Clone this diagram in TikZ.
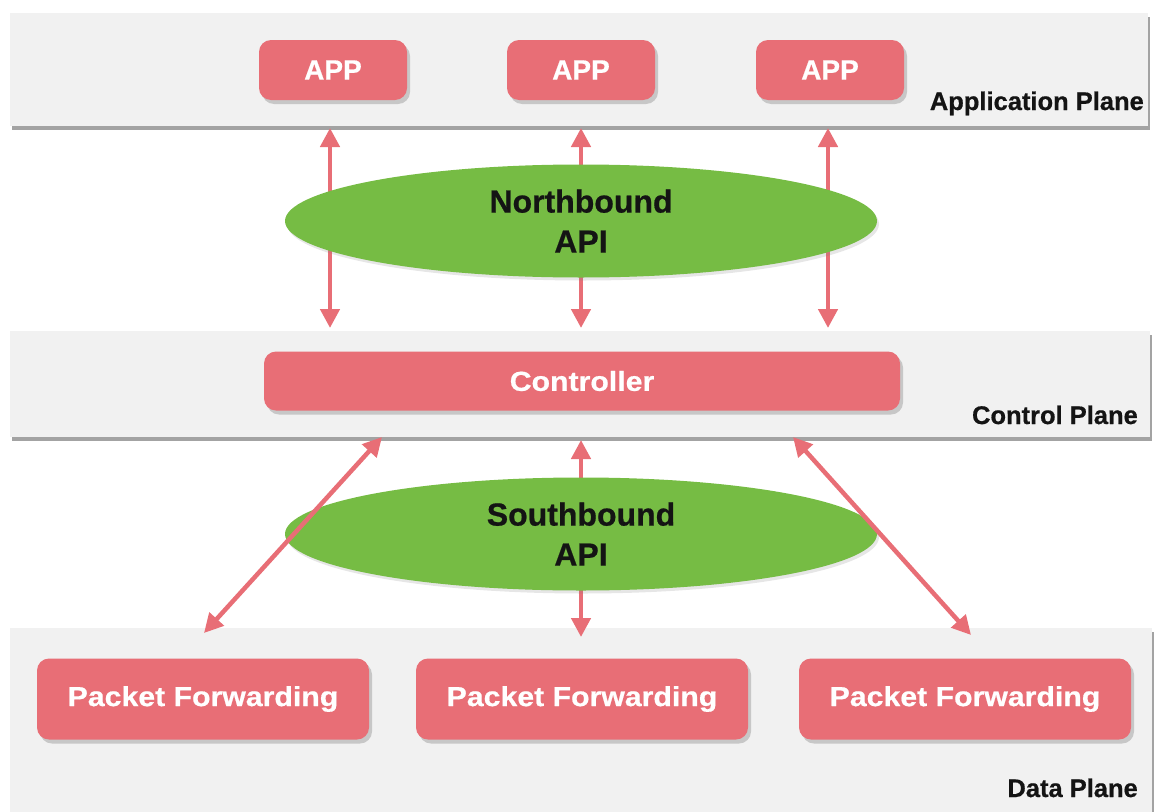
\documentclass[tikz,border=0pt]{standalone}
\usepackage{fontspec}
\setmainfont{Liberation Sans}
\newfontfamily\heavysans[BoldFeatures={FakeBold=0.6}]{Liberation Sans}
\newfontfamily\widesans[BoldFeatures={FakeBold=0.6,FakeStretch=1.1}]{Liberation Sans}
\usetikzlibrary{shapes.geometric,arrows.meta,shadows}
\definecolor{boxred}{RGB}{232,110,118}
\definecolor{apigreen}{RGB}{118,188,68}
\definecolor{planegray}{RGB}{241,241,241}
\definecolor{darktext}{RGB}{20,20,20}
\tikzset{
  plane/.style={draw=none, fill=planegray, inner sep=0pt,
    drop shadow={shadow xshift=2pt, shadow yshift=-4pt, fill=black!60, opacity=.6}},
  redbox/.style={draw=none, fill=boxred, rounded corners=12pt, inner sep=0pt,
    text=white,
    drop shadow={shadow xshift=3pt, shadow yshift=-4pt, fill=black!60, opacity=.3}},
  appbox/.style={redbox, minimum width=148pt, minimum height=60pt,
    font=\heavysans\fontsize{28}{32}\selectfont\bfseries},
  pfbox/.style={redbox, minimum width=332pt, minimum height=81pt,
    font=\widesans\fontsize{27.5}{32}\selectfont\bfseries},
  apiell/.style={ellipse, draw=none, fill=apigreen, inner sep=0pt,
    minimum width=592pt, minimum height=113pt, align=center, text=darktext,
    font=\heavysans\fontsize{32}{40}\selectfont\bfseries,
    drop shadow={shadow xshift=2pt, shadow yshift=-3pt, fill=black!50, opacity=.2}},
  planelabel/.style={anchor=base east, inner sep=0pt, text=darktext,
    font=\heavysans\fontsize{25.5}{30}\selectfont\bfseries},
  biarrow/.style={draw=boxred, line width=4.5pt,
    {Triangle[width=19pt,length=19pt]}-{Triangle[width=19pt,length=19pt]}}
}
\begin{document}
\begin{tikzpicture}[x=1pt,y=-1pt]
\useasboundingbox (0,0) rectangle (1156,811);
% planes
\node[plane, minimum width=1138pt, minimum height=113pt] (appplane) at (579,69.5) {};
\node[plane, minimum width=1140pt, minimum height=106pt] (ctrlplane) at (580,384) {};
\node[plane, minimum width=1142pt, minimum height=190pt] (dataplane) at (581,723) {};
% plane labels
\node[planelabel] (applabel) at (1144,110) {Application Plane};
\node[planelabel] (ctrllabel) at (1138,424) {Control Plane};
\node[planelabel] (datalabel) at (1138,797) {Data Plane};
% app boxes
\node[appbox] (app1) at (333,70) {APP};
\node[appbox] (app2) at (581,70) {APP};
\node[appbox] (app3) at (830,70) {APP};
% controller
\node[redbox, minimum width=636pt, minimum height=59pt,
  font=\widesans\fontsize{27.5}{32}\selectfont\bfseries] (ctrl) at (582,381) {Controller};
% packet forwarding
\node[pfbox] (pf1) at (203,699) {Packet Forwarding};
\node[pfbox] (pf2) at (582,699) {Packet Forwarding};
\node[pfbox] (pf3) at (965,699) {Packet Forwarding};
% coordinates for arrow ends
\coordinate (n1t) at (330,128);
\coordinate (n1b) at (330,328);
\coordinate (n2t) at (581,128);
\coordinate (n2b) at (581,328);
\coordinate (n3t) at (828,128);
\coordinate (n3b) at (828,328);
\coordinate (s1t) at (382,437);
\coordinate (s1b) at (204,633);
\coordinate (s2t) at (581,440);
\coordinate (s2b) at (581,637);
\coordinate (s3t) at (793,437);
\coordinate (s3b) at (971,635);
% vertical arrows (behind ellipses)
\draw[biarrow] (n1t) -- (n1b);
\draw[biarrow] (n2t) -- (n2b);
\draw[biarrow] (n3t) -- (n3b);
\draw[biarrow] (s2t) -- (s2b);
% ellipses
\node[apiell] (nb) at (581,221) {Northbound\\API};
\node[apiell] (sb) at (581,534) {Southbound\\API};
% diagonal arrows
\draw[biarrow] (s1t) -- (s1b);
\draw[biarrow] (s3t) -- (s3b);
\end{tikzpicture}
\end{document}
